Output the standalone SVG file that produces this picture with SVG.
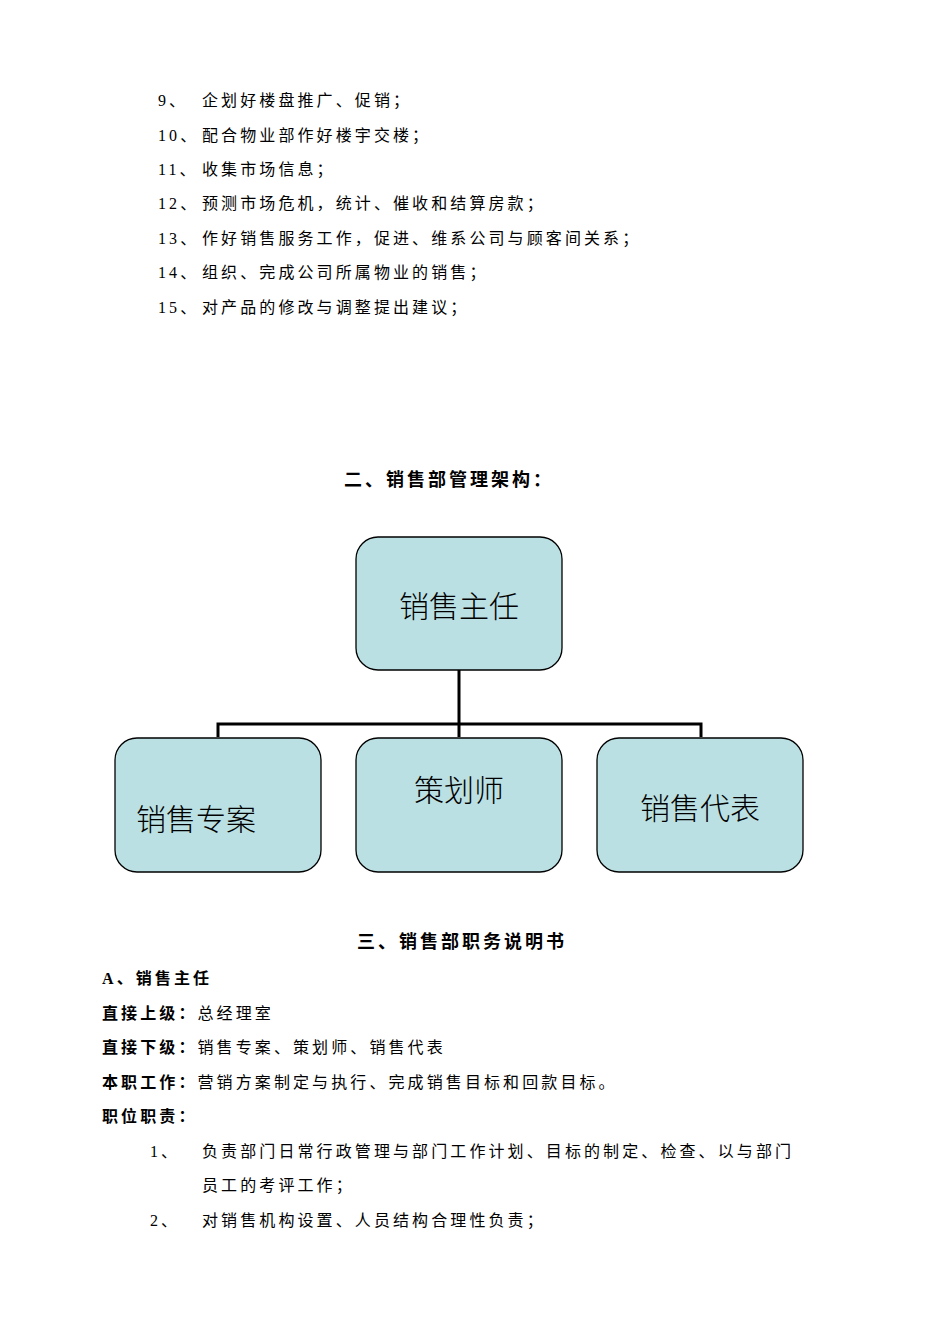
<svg xmlns="http://www.w3.org/2000/svg" width="950" height="1344" viewBox="0 0 950 1344">
<style>
text{font-family:"Liberation Serif","Noto Sans CJK SC",serif;font-size:16px;fill:#000}
.t{letter-spacing:3.1px}
.b{font-weight:bold}
.h{font-size:18px;font-weight:bold;letter-spacing:3px}
.box{fill:#bbe0e3;stroke:#000;stroke-width:1.3}
.lbl{font-size:30px;font-family:"Noto Sans CJK SC",sans-serif;font-weight:300;letter-spacing:0}
.c{fill:none;stroke:#000;stroke-width:3}
</style>
<rect width="950" height="1344" fill="#fff"/>
<g class="t">
<text x="158" y="106">9、</text><text x="202" y="106">企划好楼盘推广、促销；</text>
<text x="158" y="141">10、</text><text x="202" y="141">配合物业部作好楼宇交楼；</text>
<text x="158" y="175">11、</text><text x="202" y="175">收集市场信息；</text>
<text x="158" y="209">12、</text><text x="202" y="209">预测市场危机，统计、催收和结算房款；</text>
<text x="158" y="244">13、</text><text x="202" y="244">作好销售服务工作，促进、维系公司与顾客间关系；</text>
<text x="158" y="278">14、</text><text x="202" y="278">组织、完成公司所属物业的销售；</text>
<text x="158" y="313">15、</text><text x="202" y="313">对产品的修改与调整提出建议；</text>
</g>
<text class="h" x="449" y="486" text-anchor="middle">二、销售部管理架构：</text>
<g id="connectors">
<path class="c" d="M459 670V737M218 737V724H701V737"/>
</g>
<g id="n1"><rect class="box" x="356" y="537" width="206" height="133" rx="22"/><text class="lbl" x="459" y="617" text-anchor="middle">销售主任</text></g>
<g id="n2"><rect class="box" x="115" y="738" width="206" height="134" rx="22"/><text class="lbl" x="136" y="830">销售专案</text></g>
<g id="n3"><rect class="box" x="356" y="738" width="206" height="134" rx="22"/><text class="lbl" x="459" y="801" text-anchor="middle">策划师</text></g>
<g id="n4"><rect class="box" x="597" y="738" width="206" height="134" rx="22"/><text class="lbl" x="700" y="819" text-anchor="middle">销售代表</text></g>
<text class="h" x="462" y="948" text-anchor="middle">三、销售部职务说明书</text>
<g class="t">
<text x="102" y="984"><tspan class="b">A、销售主任</tspan></text>
<text x="102" y="1019"><tspan class="b">直接上级：</tspan>总经理室</text>
<text x="102" y="1053"><tspan class="b">直接下级：</tspan>销售专案、策划师、销售代表</text>
<text x="102" y="1088"><tspan class="b">本职工作：</tspan>营销方案制定与执行、完成销售目标和回款目标。</text>
<text x="102" y="1122" class="b">职位职责：</text>
<text x="150" y="1157">1、</text><text x="202" y="1157">负责部门日常行政管理与部门工作计划、目标的制定、检查、以与部门</text>
<text x="202" y="1191">员工的考评工作；</text>
<text x="150" y="1226">2、</text><text x="202" y="1226">对销售机构设置、人员结构合理性负责；</text>
</g>
</svg>
